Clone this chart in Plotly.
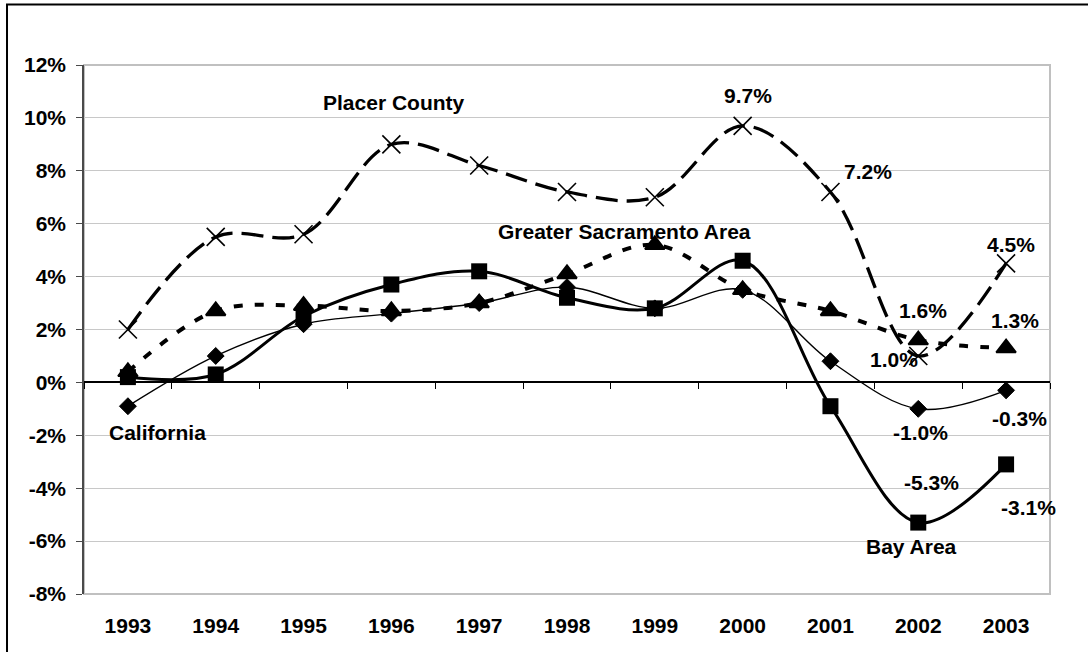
import plotly.graph_objects as go

years = ["1993", "1994", "1995", "1996", "1997", "1998", "1999", "2000", "2001", "2002", "2003"]
california = [-0.9, 1.0, 2.2, 2.6, 3.0, 3.6, 2.8, 3.5, 0.8, -1.0, -0.3]
bay_area = [0.2, 0.3, 2.5, 3.7, 4.2, 3.2, 2.8, 4.6, -0.9, -5.3, -3.1]
greater_sac = [0.4, 2.7, 2.9, 2.7, 3.0, 4.1, 5.2, 3.5, 2.7, 1.6, 1.3]
placer = [2.0, 5.5, 5.6, 9.0, 8.2, 7.2, 7.0, 9.7, 7.2, 1.0, 4.5]
y_ticks = [-8, -6, -4, -2, 0, 2, 4, 6, 8, 10, 12]
y_tick_labels = [f"{v}%" for v in y_ticks]

FONT = "Liberation Sans, Arial, sans-serif"
FS = 21

fig = go.Figure()

fig.add_trace(go.Scatter(
    x=years, y=placer, mode="lines+markers", name="Placer County",
    line=dict(color="black", width=3.3, dash="22px,9px", shape="spline", smoothing=1),
    marker=dict(symbol="x-thin", size=18, color="black", line=dict(width=1.6, color="black")),
    hoverinfo="skip"))
fig.add_trace(go.Scatter(
    x=years, y=greater_sac, mode="lines+markers", name="Greater Sacramento Area",
    line=dict(color="black", width=4, dash="9px,12px", shape="spline", smoothing=1),
    marker=dict(symbol="triangle-up", size=17, color="black", line=dict(width=2, color="black")),
    hoverinfo="skip"))
fig.add_trace(go.Scatter(
    x=years, y=california, mode="lines+markers", name="California",
    line=dict(color="black", width=1.4, shape="spline", smoothing=1),
    marker=dict(symbol="diamond", size=13, color="black", line=dict(width=1, color="black")),
    hoverinfo="skip"))
fig.add_trace(go.Scatter(
    x=years, y=bay_area, mode="lines+markers", name="Bay Area",
    line=dict(color="black", width=3, shape="spline", smoothing=1),
    marker=dict(symbol="square", size=16, color="black"),
    hoverinfo="skip"))
# helper trace so the zero-crossing category axis is drawn
fig.add_trace(go.Scatter(x=years, y=[None] * len(years), xaxis="x2", mode="lines",
                         showlegend=False, hoverinfo="skip"))

# value labels (text taken from data), offsets in pixels
value_labels = [
    (placer, 7, 5, 30), (placer, 8, 38, 20), (placer, 10, 5, 19), (placer, 9, -24, -4),
    (greater_sac, 9, 5, 30), (greater_sac, 10, 9, 28),
    (california, 9, 2, -24), (california, 10, 13, -28),
    (bay_area, 9, 13, 40), (bay_area, 10, 22, -43),
]
for series, i, dx, dy in value_labels:
    fig.add_annotation(x=i, y=series[i], text=f"{series[i]:.1f}%", showarrow=False,
                       xshift=dx, yshift=dy,
                       font=dict(family=FONT, size=FS, color="black", weight="bold"))

name_labels = [
    ("Placer County", 3.03, 10.6),
    ("Greater Sacramento Area", 5.66, 5.72),
    ("California", 0.34, -1.91),
    ("Bay Area", 8.92, -6.19),
]
for text, xi, yv in name_labels:
    fig.add_annotation(x=xi, y=yv, text=text, showarrow=False,
                       font=dict(family=FONT, size=FS, color="black", weight="bold"))

# plot-area border and outer chart frame
fig.add_shape(type="rect", xref="paper", yref="paper", x0=0, x1=1, y0=0, y1=1,
              line=dict(color="#c0c0c0", width=2), layer="below")
fig.add_shape(type="rect", xref="paper", yref="paper", x0=-0.0797, x1=1.2, y0=-0.3, y1=1.1144,
              line=dict(color="black", width=2), layer="below")

fig.update_layout(
    width=1088, height=652,
    margin=dict(l=84, r=38, t=65, b=58),
    paper_bgcolor="white", plot_bgcolor="white",
    showlegend=False,
    font=dict(family=FONT, size=FS, color="black", weight="bold"),
    xaxis=dict(type="category", range=[-0.5, 10.5], showgrid=False, showline=False,
               zeroline=False, ticks="", ticklabelstandoff=17,
               tickfont=dict(family=FONT, size=FS, color="black", weight="bold")),
    xaxis2=dict(type="category", overlaying="x", anchor="free", position=0.4,
                range=[-0.5, 10.5], showgrid=False, showline=True, linecolor="black",
                linewidth=1.5, ticks="outside", ticklen=6, tickwidth=1.2, tickcolor="black",
                tickson="boundaries", showticklabels=False, zeroline=False),
    yaxis=dict(range=[-8, 12], tickmode="array", tickvals=y_ticks, ticktext=y_tick_labels,
               showgrid=True, gridcolor="#c8c8c8", gridwidth=1, zeroline=False, showline=True,
               linecolor="#4a4a4a", linewidth=1.5, ticks="outside", ticklen=6,
               tickcolor="#4a4a4a", tickwidth=1.2, ticklabelstandoff=6,
               tickfont=dict(family=FONT, size=FS, color="black", weight="bold")),
)

fig.write_html("out.html", config={"displayModeBar": False},
               post_script="document.body.style.margin='0';")
